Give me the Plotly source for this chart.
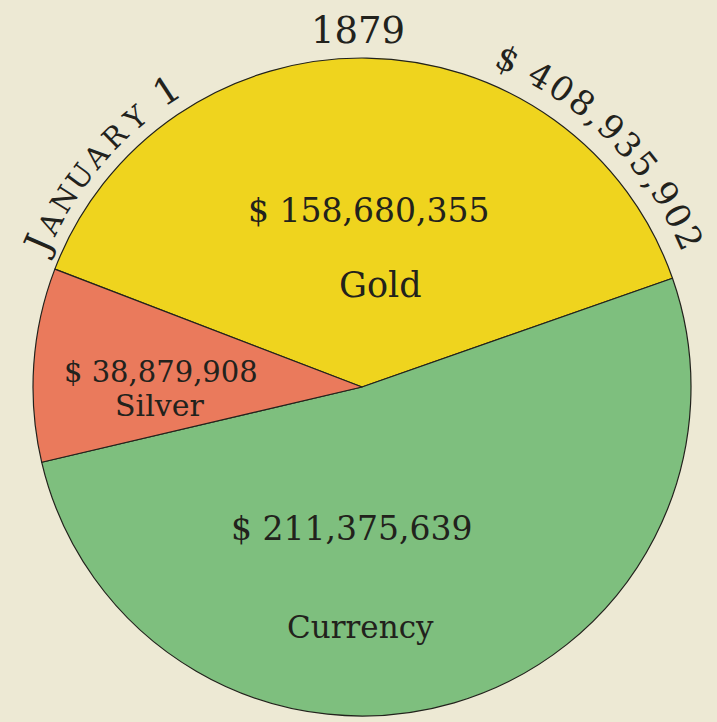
import math
import plotly.graph_objects as go

# ---------------- data ----------------
labels = ["Gold", "Currency", "Silver"]
values = [158680355, 211375639, 38879908]
colors = ["#EFD41E", "#7EBF7E", "#EA7A5C"]
year_label = "1879"
date_label = "JANUARY 1"
total = sum(values)
total_label = "$ {:,}".format(total)

# ---------------- geometry ----------------
W, H = 717, 722
CX, CY, R = 362, 387, 329          # pie centre / radius in pixels
START = 159.0                      # math angle where Gold begins
BG = "#EDE9D4"
INK = "#22221c"
FONT = "DejaVu Serif"


def px(x, y):
    return x / W, 1 - y / H


fig = go.Figure(go.Pie(
    labels=labels,
    values=values,
    sort=False,
    direction="clockwise",
    rotation=90 - START,
    marker=dict(colors=colors, line=dict(color=INK, width=1.2)),
    textinfo="none",
    hoverinfo="label+value",
    domain=dict(x=[(CX - R) / W, (CX + R) / W], y=[1 - (CY + R) / H, 1 - (CY - R) / H]),
    showlegend=False,
))

annotations = []


def add_text(text, x, y, size, angle=0):
    xp, yp = px(x, y)
    annotations.append(dict(
        text=text, x=xp, y=yp, xref="paper", yref="paper", showarrow=False,
        xanchor="center", yanchor="middle", textangle=angle,
        font=dict(family=FONT, size=size, color=INK)))


# inner slice labels (value + name)
inner_pos = {
    "Gold": ((368, 210, 33), (380, 285, 35)),
    "Currency": ((351, 528, 33), (360, 627, 31)),
    "Silver": ((161, 372, 29), (159, 406, 30)),
}
for lab, val in zip(labels, values):
    (vx, vy, vs), (nx, ny, ns) = inner_pos[lab]
    add_text("$ {:,}".format(val), vx, vy, vs)
    add_text(lab, nx, ny, ns)

# year at top
add_text(year_label, 358, 30, 37)

# curved text helpers
WIDTH = {",": 0.32, " ": 0.32, "$": 0.64, "J": 0.5, "1": 0.64}


def arc_text(chars, sizes, a0, a1, radius):
    ws = [WIDTH.get(c, 0.7 if c.isalpha() else 0.64) * s for c, s in zip(chars, sizes)]
    cum = []
    acc = 0
    for w in ws:
        cum.append(acc + w / 2)
        acc += w
    first, last = cum[0], cum[-1]
    for c, s, pos in zip(chars, sizes, cum):
        if c == " ":
            continue
        t = (pos - first) / (last - first)
        ang = a0 + (a1 - a0) * t
        rr = radius + (s - 30) * 0.35
        x = CX + rr * math.cos(math.radians(ang))
        y = CY - rr * math.sin(math.radians(ang))
        add_text(c, x, y, s, angle=90 - ang)


date_chars = list(date_label)
date_sizes = [37 if c in "J1" else 29 for c in date_chars]
arc_text(date_chars, date_sizes, 156.4, 123.3, 352)

tot_chars = list(total_label)
arc_text(tot_chars, [34] * len(tot_chars), 66.0, 24.5, 358)

fig.update_layout(
    width=W, height=H,
    margin=dict(l=0, r=0, t=0, b=0),
    paper_bgcolor=BG, plot_bgcolor=BG,
    annotations=annotations,
)

fig.write_html(
    "out.html",
    config={"displayModeBar": False},
    post_script="document.body.style.margin='0';document.body.style.overflow='hidden';",
)
